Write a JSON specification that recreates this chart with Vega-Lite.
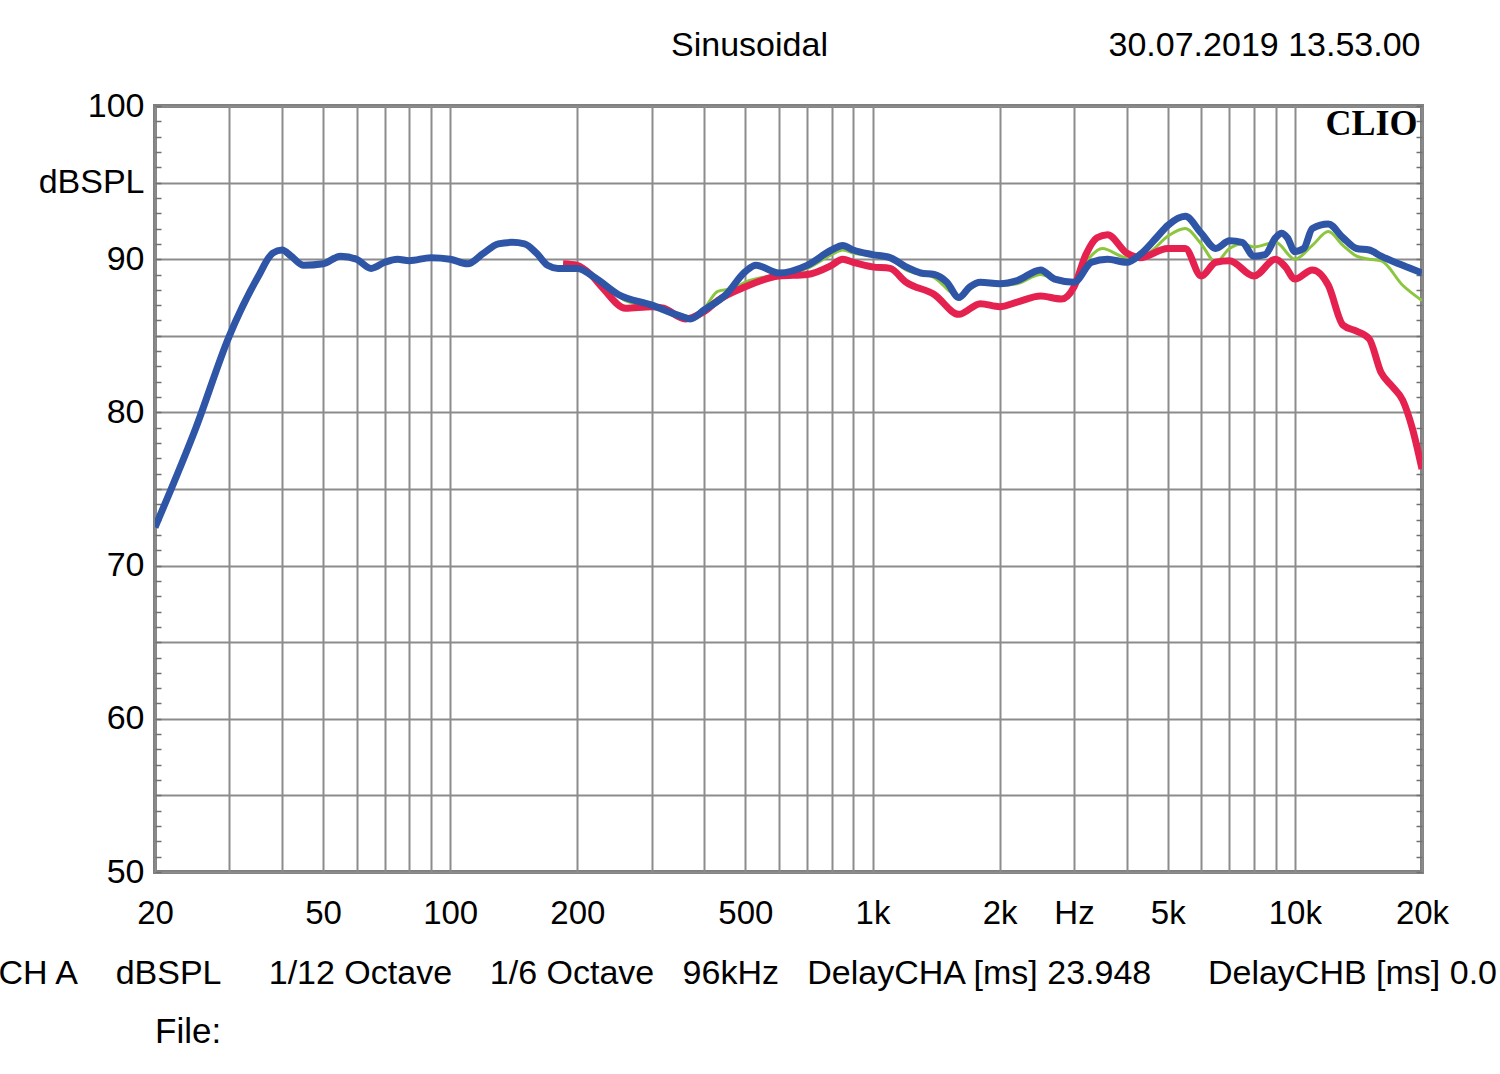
{
  "$schema": "https://vega.github.io/schema/vega-lite/v6.json",
  "width": 1267,
  "height": 766,
  "autosize": "none",
  "padding": {"left": 155, "top": 106, "right": 78, "bottom": 202},
  "background": "white",
  "config": {"view": {"stroke": "#7f7f7f", "strokeWidth": 4}, "font": "Liberation Sans"},
  "title": {"text": "File:", "orient": "bottom", "anchor": "start", "frame": "group", "offset": 25, "baseline": "top", "fontSize": 35, "fontWeight": "normal", "font": "Liberation Sans", "color": "black"},
  "data": {"values": [
    {"s": "b", "f": 20, "db": 72.5}, {"s": "b", "f": 25, "db": 79.0}, {"s": "b", "f": 30, "db": 85.0}, {"s": "b", "f": 35, "db": 88.8}, {"s": "b", "f": 38, "db": 90.4}, {"s": "b", "f": 40, "db": 90.6}, {"s": "b", "f": 42, "db": 90.2}, {"s": "b", "f": 45, "db": 89.6}, {"s": "b", "f": 50, "db": 89.7}, {"s": "b", "f": 55, "db": 90.2}, {"s": "b", "f": 60, "db": 90.0}, {"s": "b", "f": 65, "db": 89.4}, {"s": "b", "f": 70, "db": 89.8}, {"s": "b", "f": 75, "db": 90.0}, {"s": "b", "f": 80, "db": 89.9}, {"s": "b", "f": 90, "db": 90.1}, {"s": "b", "f": 100, "db": 90.0}, {"s": "b", "f": 110, "db": 89.7}, {"s": "b", "f": 120, "db": 90.4}, {"s": "b", "f": 130, "db": 91.0}, {"s": "b", "f": 140, "db": 91.1}, {"s": "b", "f": 150, "db": 91.0}, {"s": "b", "f": 160, "db": 90.4}, {"s": "b", "f": 170, "db": 89.6}, {"s": "b", "f": 180, "db": 89.4}, {"s": "b", "f": 200, "db": 89.4}, {"s": "b", "f": 220, "db": 88.8}, {"s": "b", "f": 250, "db": 87.7}, {"s": "b", "f": 300, "db": 87.0}, {"s": "b", "f": 350, "db": 86.3}, {"s": "b", "f": 370, "db": 86.1}, {"s": "b", "f": 400, "db": 86.7}, {"s": "b", "f": 450, "db": 87.7}, {"s": "b", "f": 500, "db": 89.2}, {"s": "b", "f": 530, "db": 89.6}, {"s": "b", "f": 600, "db": 89.1}, {"s": "b", "f": 700, "db": 89.6}, {"s": "b", "f": 800, "db": 90.6}, {"s": "b", "f": 850, "db": 90.9}, {"s": "b", "f": 900, "db": 90.6}, {"s": "b", "f": 1000, "db": 90.3}, {"s": "b", "f": 1100, "db": 90.1}, {"s": "b", "f": 1200, "db": 89.5}, {"s": "b", "f": 1300, "db": 89.1}, {"s": "b", "f": 1400, "db": 89.0}, {"s": "b", "f": 1500, "db": 88.5}, {"s": "b", "f": 1600, "db": 87.5}, {"s": "b", "f": 1700, "db": 88.2}, {"s": "b", "f": 1800, "db": 88.5}, {"s": "b", "f": 2000, "db": 88.4}, {"s": "b", "f": 2200, "db": 88.6}, {"s": "b", "f": 2500, "db": 89.3}, {"s": "b", "f": 2700, "db": 88.7}, {"s": "b", "f": 3000, "db": 88.5}, {"s": "b", "f": 3300, "db": 89.8}, {"s": "b", "f": 3600, "db": 90.0}, {"s": "b", "f": 4000, "db": 89.8}, {"s": "b", "f": 4300, "db": 90.3}, {"s": "b", "f": 4700, "db": 91.4}, {"s": "b", "f": 5000, "db": 92.2}, {"s": "b", "f": 5500, "db": 92.8}, {"s": "b", "f": 6000, "db": 91.7}, {"s": "b", "f": 6500, "db": 90.7}, {"s": "b", "f": 7000, "db": 91.2}, {"s": "b", "f": 7500, "db": 91.1}, {"s": "b", "f": 8000, "db": 90.2}, {"s": "b", "f": 8500, "db": 90.3}, {"s": "b", "f": 9000, "db": 91.4}, {"s": "b", "f": 9300, "db": 91.7}, {"s": "b", "f": 9600, "db": 91.4}, {"s": "b", "f": 10000, "db": 90.5}, {"s": "b", "f": 10500, "db": 90.7}, {"s": "b", "f": 11000, "db": 92.0}, {"s": "b", "f": 12000, "db": 92.3}, {"s": "b", "f": 13000, "db": 91.4}, {"s": "b", "f": 14000, "db": 90.7}, {"s": "b", "f": 15000, "db": 90.6}, {"s": "b", "f": 16000, "db": 90.2}, {"s": "b", "f": 18000, "db": 89.6}, {"s": "b", "f": 20000, "db": 89.1},
    {"s": "r", "f": 185, "db": 89.7}, {"s": "r", "f": 200, "db": 89.6}, {"s": "r", "f": 215, "db": 89.0}, {"s": "r", "f": 230, "db": 88.1}, {"s": "r", "f": 260, "db": 86.8}, {"s": "r", "f": 300, "db": 86.9}, {"s": "r", "f": 320, "db": 86.8}, {"s": "r", "f": 360, "db": 86.1}, {"s": "r", "f": 400, "db": 86.6}, {"s": "r", "f": 430, "db": 87.3}, {"s": "r", "f": 500, "db": 88.2}, {"s": "r", "f": 600, "db": 88.9}, {"s": "r", "f": 700, "db": 89.0}, {"s": "r", "f": 800, "db": 89.6}, {"s": "r", "f": 850, "db": 90.0}, {"s": "r", "f": 900, "db": 89.8}, {"s": "r", "f": 1000, "db": 89.5}, {"s": "r", "f": 1100, "db": 89.4}, {"s": "r", "f": 1200, "db": 88.5}, {"s": "r", "f": 1400, "db": 87.7}, {"s": "r", "f": 1600, "db": 86.4}, {"s": "r", "f": 1800, "db": 87.1}, {"s": "r", "f": 2000, "db": 86.9}, {"s": "r", "f": 2200, "db": 87.2}, {"s": "r", "f": 2500, "db": 87.6}, {"s": "r", "f": 2800, "db": 87.4}, {"s": "r", "f": 3000, "db": 88.2}, {"s": "r", "f": 3200, "db": 90.3}, {"s": "r", "f": 3400, "db": 91.4}, {"s": "r", "f": 3600, "db": 91.6}, {"s": "r", "f": 4000, "db": 90.4}, {"s": "r", "f": 4300, "db": 90.1}, {"s": "r", "f": 5000, "db": 90.7}, {"s": "r", "f": 5500, "db": 90.7}, {"s": "r", "f": 6000, "db": 88.9}, {"s": "r", "f": 6500, "db": 89.8}, {"s": "r", "f": 7000, "db": 89.9}, {"s": "r", "f": 8000, "db": 88.9}, {"s": "r", "f": 9000, "db": 90.0}, {"s": "r", "f": 9500, "db": 89.5}, {"s": "r", "f": 10000, "db": 88.7}, {"s": "r", "f": 11000, "db": 89.3}, {"s": "r", "f": 12000, "db": 88.3}, {"s": "r", "f": 13000, "db": 85.7}, {"s": "r", "f": 14000, "db": 85.3}, {"s": "r", "f": 15000, "db": 84.8}, {"s": "r", "f": 16000, "db": 82.6}, {"s": "r", "f": 17000, "db": 81.7}, {"s": "r", "f": 18000, "db": 80.8}, {"s": "r", "f": 19000, "db": 78.9}, {"s": "r", "f": 20000, "db": 76.3},
    {"s": "g", "f": 185, "db": 89.6}, {"s": "g", "f": 200, "db": 89.5}, {"s": "g", "f": 230, "db": 88.4}, {"s": "g", "f": 260, "db": 87.3}, {"s": "g", "f": 300, "db": 86.9}, {"s": "g", "f": 350, "db": 86.4}, {"s": "g", "f": 380, "db": 86.2}, {"s": "g", "f": 400, "db": 86.8}, {"s": "g", "f": 430, "db": 87.9}, {"s": "g", "f": 470, "db": 88.1}, {"s": "g", "f": 500, "db": 88.5}, {"s": "g", "f": 600, "db": 89.0}, {"s": "g", "f": 700, "db": 89.4}, {"s": "g", "f": 800, "db": 90.3}, {"s": "g", "f": 850, "db": 90.6}, {"s": "g", "f": 900, "db": 90.4}, {"s": "g", "f": 1000, "db": 90.2}, {"s": "g", "f": 1100, "db": 90.0}, {"s": "g", "f": 1200, "db": 89.3}, {"s": "g", "f": 1400, "db": 88.8}, {"s": "g", "f": 1600, "db": 87.6}, {"s": "g", "f": 1800, "db": 88.4}, {"s": "g", "f": 2000, "db": 88.3}, {"s": "g", "f": 2200, "db": 88.4}, {"s": "g", "f": 2500, "db": 89.0}, {"s": "g", "f": 2800, "db": 88.5}, {"s": "g", "f": 3000, "db": 88.5}, {"s": "g", "f": 3200, "db": 89.8}, {"s": "g", "f": 3500, "db": 90.7}, {"s": "g", "f": 4000, "db": 90.1}, {"s": "g", "f": 4500, "db": 90.4}, {"s": "g", "f": 5000, "db": 91.5}, {"s": "g", "f": 5500, "db": 92.0}, {"s": "g", "f": 6000, "db": 91.0}, {"s": "g", "f": 6500, "db": 89.8}, {"s": "g", "f": 7000, "db": 90.7}, {"s": "g", "f": 7500, "db": 91.0}, {"s": "g", "f": 8000, "db": 90.8}, {"s": "g", "f": 9000, "db": 91.1}, {"s": "g", "f": 10000, "db": 90.0}, {"s": "g", "f": 11000, "db": 90.9}, {"s": "g", "f": 12000, "db": 91.8}, {"s": "g", "f": 13000, "db": 90.9}, {"s": "g", "f": 14000, "db": 90.2}, {"s": "g", "f": 15000, "db": 90.0}, {"s": "g", "f": 16000, "db": 89.9}, {"s": "g", "f": 18000, "db": 88.3}, {"s": "g", "f": 20000, "db": 87.3}
  ]},
  "layer": [
    {
      "transform": [{"filter": "datum.s === 'g'"}],
      "mark": {"type": "line", "color": "#8cc63f", "strokeWidth": 3, "interpolate": "monotone", "clip": true},
      "encoding": {
        "x": {"field": "f", "type": "quantitative", "scale": {"type": "log", "domain": [20, 20000], "nice": false},
          "axis": {
            "values": [20, 30, 40, 50, 60, 70, 80, 90, 100, 200, 300, 400, 500, 600, 700, 800, 900, 1000, 2000, 3000, 4000, 5000, 6000, 7000, 8000, 9000, 10000, 20000],
            "labelExpr": "datum.value == 3000 ? 'Hz' : (indexof([20,50,100,200,500,1000,2000,5000,10000,20000], datum.value) >= 0 ? (datum.value >= 1000 ? (datum.value/1000) + 'k' : '' + datum.value) : '')",
            "grid": true, "gridColor": "#8c8c8c", "gridWidth": 2, "ticks": false, "domain": false,
            "labelFontSize": 33, "labelFont": "Liberation Sans", "labelColor": "black", "labelPadding": 25,
            "labelOverlap": false, "labelBound": false, "labelFlush": false,
            "title": "CH A\u00a0\u00a0\u00a0\u00a0dBSPL\u00a0\u00a0\u00a0\u00a0\u00a01/12 Octave\u00a0\u00a0\u00a0\u00a01/6 Octave\u00a0\u00a0\u00a096kHz\u00a0\u00a0\u00a0DelayCHA [ms] 23.948\u00a0\u00a0\u00a0\u00a0\u00a0\u00a0DelayCHB [ms] 0.0",
            "titleAlign": "left", "titleAnchor": "start", "titleX": -157, "titleY": 111, "titleBaseline": "alphabetic",
            "titleFontSize": 34, "titleFont": "Liberation Sans", "titleFontWeight": "normal", "titleColor": "black"
          }},
        "y": {"field": "db", "type": "quantitative", "scale": {"domain": [50, 100], "nice": false, "zero": false},
          "axis": {
            "orient": "left",
            "values": [50,51,52,53,54,55,56,57,58,59,60,61,62,63,64,65,66,67,68,69,70,71,72,73,74,75,76,77,78,79,80,81,82,83,84,85,86,87,88,89,90,91,92,93,94,95,96,97,98,99,100],
            "labelExpr": "datum.value == 95 ? 'dBSPL' : (datum.value % 10 == 0 ? datum.label : '')",
            "grid": true, "gridColor": "#8c8c8c", "gridWidth": 2,
            "gridOpacity": {"condition": {"test": "datum.value % 5 === 0", "value": 1}, "value": 0},
            "domain": false, "ticks": true, "tickSize": -6, "tickColor": "#707070", "tickWidth": 1.5,
            "labelFontSize": 34, "labelFont": "Liberation Sans", "labelColor": "black", "labelPadding": 17,
            "labelOverlap": false, "labelBound": false, "labelFlush": false,
            "title": "CLIO", "titleAngle": 0, "titleAlign": "right", "titleBaseline": "middle", "titleX": 1262, "titleY": 17,
            "titleFont": "Liberation Serif", "titleFontSize": 36, "titleFontWeight": "bold", "titleColor": "black"
          }}
      }
    },
    {
      "transform": [{"filter": "datum.s === 'r'"}],
      "mark": {"type": "line", "color": "#e5224f", "strokeWidth": 7, "interpolate": "monotone", "clip": true},
      "encoding": {
        "x": {"field": "f", "type": "quantitative", "scale": {"type": "log", "domain": [20, 20000], "nice": false}, "axis": null},
        "y": {"field": "db", "type": "quantitative", "scale": {"domain": [50, 100], "nice": false, "zero": false},
          "axis": {
            "orient": "right",
            "values": [50,51,52,53,54,55,56,57,58,59,60,61,62,63,64,65,66,67,68,69,70,71,72,73,74,75,76,77,78,79,80,81,82,83,84,85,86,87,88,89,90,91,92,93,94,95,96,97,98,99,100],
            "labels": false, "grid": false, "domain": false, "ticks": true, "tickSize": -6, "tickColor": "#707070", "tickWidth": 1.5,
            "title": "30.07.2019 13.53.00", "titleAngle": 0, "titleAlign": "right", "titleBaseline": "middle", "titleX": -2, "titleY": -61,
            "titleFont": "Liberation Sans", "titleFontSize": 34, "titleFontWeight": "normal", "titleColor": "black"
          }}
      }
    },
    {
      "transform": [{"filter": "datum.s === 'b'"}],
      "mark": {"type": "line", "color": "#2f55a6", "strokeWidth": 7, "interpolate": "monotone", "clip": true},
      "encoding": {
        "x": {"field": "f", "type": "quantitative", "scale": {"type": "log", "domain": [20, 20000], "nice": false},
          "axis": {
            "orient": "top", "labels": false, "ticks": false, "grid": false, "domain": false,
            "title": "Sinusoidal", "titleAlign": "center", "titleBaseline": "middle", "titleX": 594, "titleY": -61,
            "titleFont": "Liberation Sans", "titleFontSize": 34, "titleFontWeight": "normal", "titleColor": "black"
          }},
        "y": {"field": "db", "type": "quantitative", "scale": {"domain": [50, 100], "nice": false, "zero": false}, "axis": null}
      }
    }
  ],
  "resolve": {"axis": {"x": "independent", "y": "independent"}}
}
